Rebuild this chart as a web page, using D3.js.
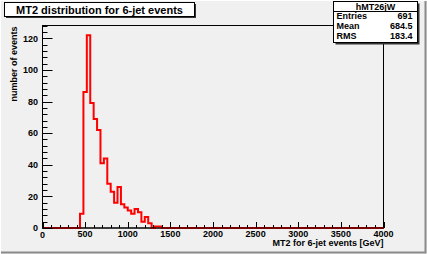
<!DOCTYPE html>
<html><head><meta charset="utf-8">
<script src="https://cdn.jsdelivr.net/npm/d3@7"></script>
<style>html,body{margin:0;padding:0;background:#f0f0f0;}svg{display:block;font-family:"Liberation Sans",Arial,Helvetica,sans-serif;}</style>
</head><body>
<svg id="c" width="427" height="254"></svg>
<script>
// ---- data ----
const binLow = [440,480,520,560,600,640,680,720,760,800,840,880,920,960,1000,1040,1080,1120,1160,1200,1240,1280,1320,1360];
const binWidth = 40;
const counts = [9,86,122,79,69,62,41,44,28,23,16,26,15,13,11,9,12,10,4,7,3,0,1,1];
const xTicks = [0,500,1000,1500,2000,2500,3000,3500,4000];
const yTicks = [0,20,40,60,80,100,120];
const xDomain = [0,4000];
const yDomain = [0,128.1];
const title = "MT2 distribution for 6-jet events";
const xTitle = "MT2 for 6-jet events [GeV]";
const yTitle = "number of events";
const statsName = "hMT26jW";
const statsLabels = ["Entries","Mean","RMS"];
const statsValues = ["691","684.5","183.4"];

// ---- layout ----
const W=427,H=254;
const fx0=42.5,fx1=383.5,fy0=25.5,fy1=228;
const svg=d3.select("#c");
svg.append("rect").attr("x",0).attr("y",0).attr("width",W).attr("height",H).attr("fill","#f0f0f0");
// bevel
svg.append("path").attr("d",`M0.5,${H-0.5}V0.5H${W-0.5}`).attr("stroke","#ffffff").attr("fill","none").attr("stroke-width",1);
svg.append("path").attr("d",`M1,${H-1.5}H${W-1.5}V1`).attr("stroke","#8a8a8a").attr("fill","none").attr("stroke-width",2);

const x=d3.scaleLinear().domain(xDomain).range([fx0,fx1]);
const y=d3.scaleLinear().domain(yDomain).range([fy1,fy0]);

svg.append("rect").attr("x",fx0).attr("y",fy0).attr("width",fx1-fx0).attr("height",fy1-fy0)
  .attr("fill","#f0f0f0").attr("stroke","#000").attr("stroke-width",1);

// histogram step path
const pts=[[xDomain[0],0]];
binLow.forEach((b,i)=>{pts.push([b,counts[i]]);pts.push([b+binWidth,counts[i]]);});
pts.push([binLow[binLow.length-1]+binWidth,0]);
pts.push([xDomain[1],0]);
const line=d3.line().x(d=>x(d[0])).y(d=>y(d[1])).curve(d3.curveStepBefore);
// build explicit steps
let dstr="M"+x(xDomain[0])+","+y(0);
dstr+="H"+x(binLow[0]);
binLow.forEach((b,i)=>{dstr+="V"+y(counts[i])+"H"+x(b+binWidth);});
dstr+="V"+y(0)+"H"+x(xDomain[1]);
svg.append("path").attr("d",dstr).attr("fill","none").attr("stroke","#ff0000").attr("stroke-width",2).attr("stroke-linejoin","miter");

// axes (ticks inside frame, ROOT style)
const yAxis=d3.axisRight(y).tickValues(d3.range(0,129,4)).tickSize(0).tickFormat("");
const gY=svg.append("g").attr("transform",`translate(${fx0},0)`);
d3.range(0,129,4).forEach(v=>{
  const major=v%20===0;
  gY.append("line").attr("x1",0).attr("x2",major?10:5).attr("y1",Math.round(y(v))+0.5).attr("y2",Math.round(y(v))+0.5).attr("stroke","#000");
});
const gX=svg.append("g").attr("transform",`translate(0,${fy1})`);
d3.range(0,4001,100).forEach(v=>{
  const major=v%500===0;
  gX.append("line").attr("y1",0).attr("y2",major?-6:-3).attr("x1",Math.round(x(v))+0.5).attr("x2",Math.round(x(v))+0.5).attr("stroke","#000");
});
// redraw frame lines on top
svg.append("rect").attr("x",fx0).attr("y",fy0).attr("width",fx1-fx0).attr("height",fy1-fy0)
  .attr("fill","none").attr("stroke","#000").attr("stroke-width",1);

const lblFont="bold 9px 'Liberation Sans',Arial,sans-serif";
svg.append("g").selectAll("text").data(yTicks).join("text")
  .attr("x",38).attr("y",d=>y(d)+3.2).attr("text-anchor","end")
  .style("font",lblFont).text(d=>d);
svg.append("g").selectAll("text").data(xTicks).join("text")
  .attr("x",d=>x(d)+(d===0?0:0)).attr("y",d=>d===0?238:237).attr("text-anchor","middle")
  .style("font",lblFont).text(d=>d);

svg.append("text").attr("x",fx1).attr("y",246).attr("text-anchor","end").style("font",lblFont).text(xTitle);
svg.append("text").attr("transform",`translate(17,${fy0+1}) rotate(-90)`).attr("text-anchor","end").style("font",lblFont).text(yTitle);

// title box
svg.append("rect").attr("x",6).attr("y",4).attr("width",190).attr("height",14).attr("fill","#333");
svg.append("rect").attr("x",4.5).attr("y",2.5).attr("width",190).attr("height",14).attr("fill","#ffffff").attr("stroke","#000");
svg.append("text").attr("x",99.5).attr("y",13.5).attr("text-anchor","middle").style("font","bold 11px 'Liberation Sans',Arial,sans-serif").text(title);

// stats box
const sx=333.5,sy=1.5,sw=84,sh=41;
svg.append("rect").attr("x",sx+2).attr("y",sy+2).attr("width",sw).attr("height",sh).attr("fill","#333");
svg.append("rect").attr("x",sx).attr("y",sy).attr("width",sw).attr("height",sh).attr("fill","#ffffff").attr("stroke","#000");
svg.append("line").attr("x1",sx).attr("x2",sx+sw).attr("y1",11.5).attr("y2",11.5).attr("stroke","#000");
svg.append("text").attr("x",sx+sw/2).attr("y",9.5).attr("text-anchor","middle").style("font",lblFont).text(statsName);
const rowY=[19,29,39];
statsLabels.forEach((l,i)=>{
  svg.append("text").attr("x",sx+3).attr("y",rowY[i]).style("font",lblFont).text(l);
  svg.append("text").attr("x",sx+sw-5).attr("y",rowY[i]).attr("text-anchor","end").style("font",lblFont).text(statsValues[i]);
});
</script>
</body></html>
